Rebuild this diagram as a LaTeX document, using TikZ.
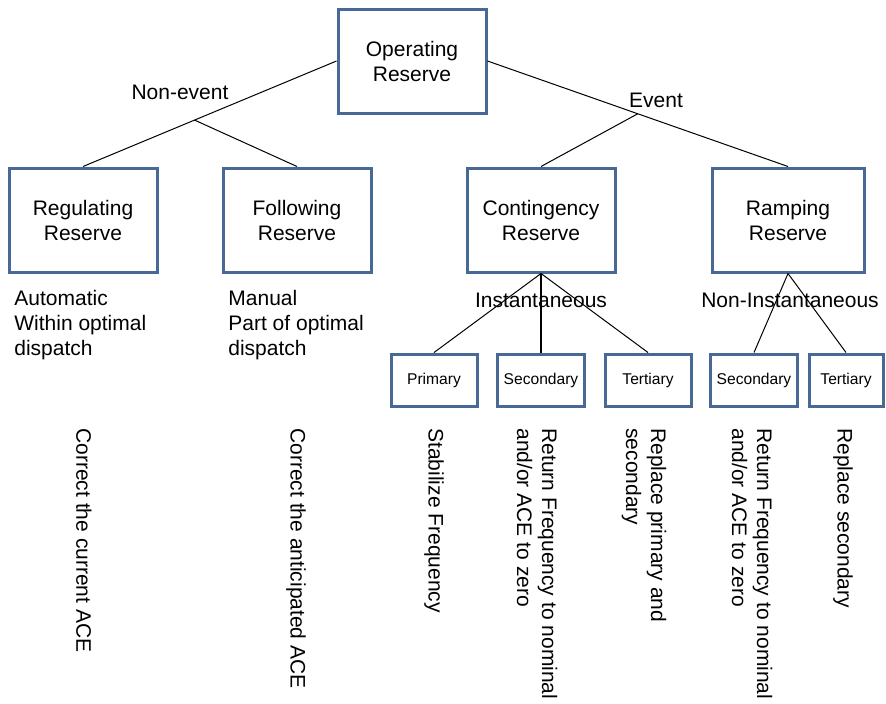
\documentclass[tikz,border=0pt]{standalone}
\usepackage{fontspec}
\setmainfont{Liberation Sans}
\definecolor{boxblue}{RGB}{72,104,150}
\begin{document}
\begin{tikzpicture}[x=0.5pt,y=-0.5pt,
  bigbox/.style={draw=boxblue, line width=1.5pt, minimum width=74pt, minimum height=52pt,
    align=center, font=\fontsize{10.5}{12.5}\selectfont},
  smallbox/.style={draw=boxblue, line width=1.5pt, minimum width=43pt, minimum height=26pt,
    font=\fontsize{7.8}{9}\selectfont},
  lbl/.style={font=\fontsize{10.5}{12.5}\selectfont, inner sep=0pt},
  note/.style={lbl, align=left, anchor=west},
  vnote/.style={lbl, align=left, anchor=west, rotate=-90},
  link/.style={draw, line width=0.5pt}]
\useasboundingbox (0,0) rectangle (886,703);

\node[bigbox] (op) at (412,61) {Operating\\Reserve};
\node[bigbox] (reg) at (83,220) {Regulating\\Reserve};
\node[bigbox] (fol) at (297,220) {Following\\Reserve};
\node[bigbox] (cont) at (541,220) {Contingency\\Reserve};
\node[bigbox, minimum width=76pt] (ramp) at (788,220) {Ramping\\Reserve};

\node[smallbox] (prim) at (434,380) {Primary};
\node[smallbox] (sec1) at (541,380) {Secondary};
\node[smallbox] (ter1) at (648,380) {Tertiary};
\node[smallbox] (sec2) at (754,380) {Secondary};
\node[smallbox, minimum width=37pt] (ter2) at (846,380) {Tertiary};

\path[link] (op.west) -- (reg.north) coordinate[pos=0.56] (nonev);
\path[link] (nonev) -- (fol.north);
\path[link] (op.east) -- (ramp.north) coordinate[pos=0.5] (ev);
\path[link] (ev) -- (cont.north);

\path[link] (cont.south) -- (prim.north);
\path[draw, line width=1pt] (cont.south) -- (sec1.north);
\path[link] (cont.south) -- (ter1.north);
\path[link] (ramp.south) -- (sec2.north);
\path[link] (ramp.south) -- (ter2.north);

\node[lbl] (lnonev) at (180,92) {Non-event};
\node[lbl] (lev) at (656,100) {Event};
\node[lbl] (linst) at (541,300) {Instantaneous};
\node[lbl] (lnoninst) at (790,300) {Non-Instantaneous};

\node[note] (dreg) at (14,325) {Automatic\\Within optimal\\dispatch};
\node[note] (dfol) at (228,325) {Manual\\Part of optimal\\dispatch};

\node[vnote] (vreg) at (84,428) {Correct the current ACE};
\node[vnote] (vfol) at (296,428) {Correct the anticipated ACE};
\node[vnote] (vprim) at (434,428) {Stabilize Frequency};
\node[vnote] (vsec1) at (537,428) {Return Frequency to nominal\\and/or ACE to zero};
\node[vnote] (vter1) at (644,428) {Replace primary and\\secondary};
\node[vnote] (vsec2) at (752,428) {Return Frequency to nominal\\and/or ACE to zero};
\node[vnote] (vter2) at (843,428) {Replace secondary};
\end{tikzpicture}
\end{document}
